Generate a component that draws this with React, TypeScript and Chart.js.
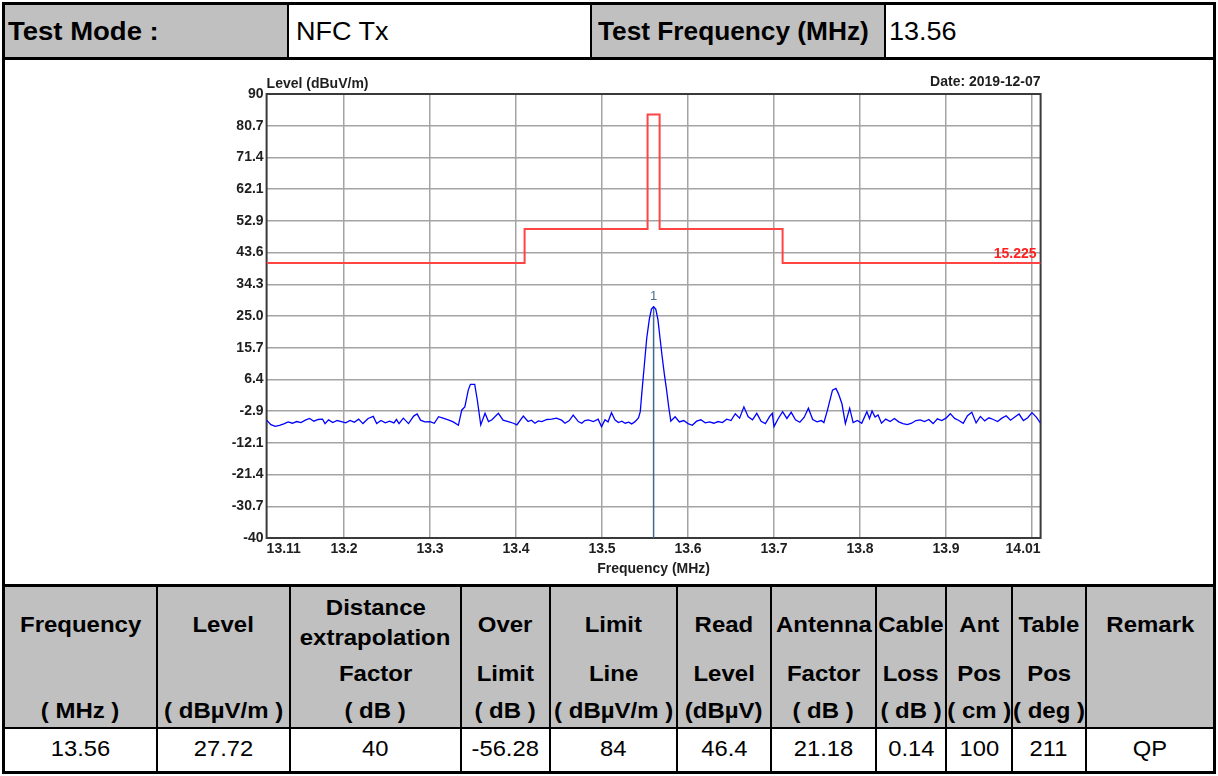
import React, { useEffect, useRef } from "react";
import { Chart, registerables } from "chart.js";

Chart.register(...registerables);

// ---------------- data ----------------
const freqMHz = [
  13.11, 13.115, 13.12, 13.125, 13.13, 13.135, 13.14, 13.145, 13.15, 13.155,
  13.16, 13.165, 13.17, 13.175, 13.178, 13.182, 13.187, 13.192, 13.197, 13.202,
  13.207, 13.212, 13.217, 13.222, 13.228, 13.234, 13.238, 13.243, 13.248, 13.253,
  13.258, 13.261, 13.264, 13.269, 13.275, 13.281, 13.285, 13.289, 13.294, 13.3,
  13.305, 13.31, 13.316, 13.322, 13.327, 13.333, 13.337, 13.3405, 13.3445, 13.347,
  13.352, 13.355, 13.359, 13.364, 13.368, 13.372, 13.3795, 13.385, 13.391, 13.397,
  13.401, 13.4085, 13.414, 13.418, 13.422, 13.426, 13.43, 13.436, 13.4415, 13.447,
  13.453, 13.457, 13.462, 13.4665, 13.4725, 13.4765, 13.48, 13.484, 13.49, 13.4955,
  13.4995, 13.5035, 13.507, 13.511, 13.515, 13.519, 13.523, 13.527, 13.531, 13.5345,
  13.538, 13.5405, 13.5425, 13.5445, 13.5465, 13.549, 13.552, 13.555, 13.5575, 13.56,
  13.5625, 13.565, 13.5675, 13.57, 13.5725, 13.575, 13.5775, 13.58, 13.585, 13.59,
  13.595, 13.6, 13.605, 13.61, 13.615, 13.62, 13.625, 13.63, 13.635, 13.64,
  13.645, 13.65, 13.655, 13.66, 13.665, 13.67, 13.675, 13.68, 13.685, 13.69,
  13.695, 13.698, 13.7, 13.705, 13.71, 13.715, 13.72, 13.725, 13.73, 13.735,
  13.74, 13.745, 13.75, 13.755, 13.758, 13.762, 13.768, 13.772, 13.775, 13.779,
  13.783, 13.788, 13.792, 13.797, 13.802, 13.808, 13.811, 13.814, 13.8175, 13.821,
  13.825, 13.83, 13.835, 13.84, 13.845, 13.85, 13.855, 13.86, 13.865, 13.87,
  13.875, 13.88, 13.885, 13.89, 13.895, 13.9, 13.905, 13.91, 13.915, 13.92,
  13.925, 13.93, 13.935, 13.94, 13.945, 13.95, 13.955, 13.96, 13.965, 13.97,
  13.975, 13.98, 13.985, 13.99, 13.995, 14.0, 14.005, 14.01,
];

const levelDbuV = [
  -5.5, -6.8, -7.3, -7.0, -6.6, -6.0, -6.4, -5.9, -6.2, -5.5,
  -5.0, -5.8, -5.3, -5.2, -6.5, -5.4, -6.2, -5.6, -5.9, -6.3,
  -5.6, -6.1, -5.2, -6.5, -5.0, -4.4, -6.5, -5.6, -6.3, -5.8,
  -6.3, -5.3, -6.5, -4.9, -6.5, -4.3, -3.7, -5.5, -6.0, -5.9,
  -6.4, -4.5, -5.0, -5.5, -6.0, -7.0, -2.5, -1.6, 3.3, 5.0,
  5.0, 0.4, -6.9, -3.5, -5.9, -5.4, -3.5, -5.5, -5.9, -6.4,
  -6.9, -4.3, -5.9, -5.5, -6.4, -5.7, -5.9, -5.3, -5.2, -4.9,
  -5.5, -6.4, -5.6, -4.0, -5.9, -6.4, -5.6, -5.4, -5.9, -5.2,
  -7.4, -5.4, -6.0, -3.3, -5.4, -6.2, -5.8, -6.4, -6.1, -6.6,
  -6.0, -5.4, -4.8, -3.0, 3.0, 10.0, 18.5, 24.0, 27.0, 27.72,
  27.0, 24.0, 18.5, 13.0, 8.0, 3.5, -1.5, -5.8, -4.5, -6.0,
  -5.6, -6.5, -7.0, -5.8, -5.4, -6.3, -6.0, -6.4, -5.9, -6.2,
  -5.2, -5.6, -3.6, -4.9, -1.6, -4.5, -5.4, -3.5, -5.8, -6.5,
  -4.4, -3.5, -7.4, -5.0, -3.0, -5.0, -3.2, -5.4, -6.1, -4.7,
  -2.0, -5.3, -6.0, -5.6, -6.2, -2.7, 3.3, 3.8, 2.2, -0.7,
  -6.5, -2.0, -6.2, -5.6, -6.4, -3.0, -5.0, -2.8, -4.6, -4.0,
  -6.4, -5.2, -5.9, -5.0, -6.0, -6.5, -6.8, -6.4, -5.6, -5.4,
  -5.9, -5.3, -6.5, -5.1, -5.6, -4.9, -3.6, -5.0, -5.6, -6.4,
  -4.2, -3.2, -6.3, -4.4, -5.7, -4.8, -5.3, -5.9, -4.9, -4.2,
  -5.5, -4.6, -3.7, -5.6, -4.8, -3.3, -4.6, -6.4,
];

const limitFreq = [13.11, 13.41, 13.553, 13.567, 13.71, 14.01];
const limitLevel = [40.5, 50.5, 84, 50.5, 40.5, 40.5];
const limitName = "15.225";

const markerFreq = 13.56;
const markerLevel = 27.72;
const markerName = "1";

const yTickValues = [90, 80.714, 71.429, 62.143, 52.857, 43.571, 34.286, 25, 15.714, 6.429, -2.857, -12.143, -21.429, -30.714, -40];
const yTickLabels = ["90", "80.7", "71.4", "62.1", "52.9", "43.6", "34.3", "25.0", "15.7", "6.4", "-2.9", "-12.1", "-21.4", "-30.7", "-40"];
const xTickValues = [13.11, 13.2, 13.3, 13.4, 13.5, 13.6, 13.7, 13.8, 13.9, 14.0, 14.01];
const xTickLabels = ["13.11", "13.2", "13.3", "13.4", "13.5", "13.6", "13.7", "13.8", "13.9", "", "14.01"];

const yTitle = "Level (dBuV/m)";
const xTitle = "Frequency (MHz)";
const dateText = "Date: 2019-12-07";

const headerLabels = ["Test Mode :", "NFC Tx", "Test Frequency (MHz)", "13.56"];

const colHeadLine1 = ["Frequency", "Level", "", "Over", "Limit", "Read", "Antenna", "Cable", "Ant", "Table", "Remark"];
const colHeadLine2 = ["", "", "Factor", "Limit", "Line", "Level", "Factor", "Loss", "Pos", "Pos", ""];
const colHeadLine3 = ["( MHz )", "( dBµV/m )", "( dB )", "( dB )", "( dBµV/m )", "(dBµV)", "( dB )", "( dB )", "( cm )", "( deg )", ""];
const distanceHead = ["Distance", "extrapolation"];
const rowValues = ["13.56", "27.72", "40", "-56.28", "84", "46.4", "21.18", "0.14", "100", "211", "QP"];

// ---------------- layout ----------------
const FONT = "'Liberation Sans', Arial, Helvetica, sans-serif";
const colEdges = [4, 157, 290, 461, 550, 677, 771, 876, 946, 1012, 1086, 1214];
const GRAY = "#c0c0c0";

type TxtProps = {
  x: number; y: number; w: number; text: string; size: number; bold?: boolean;
  left?: boolean; sx?: number; color?: string;
};
const Txt = ({ x, y, w, text, size, bold, left, sx = 1.08, color = "#000" }: TxtProps) => (
  <div
    style={{
      position: "absolute", left: x, top: y - 20, width: w, height: 40,
      display: "flex", alignItems: "center",
      justifyContent: left ? "flex-start" : "center",
      fontFamily: FONT, color,
    }}
  >
    <span
      style={{
        display: "inline-block", whiteSpace: "nowrap", fontSize: size,
        fontWeight: bold ? 700 : 400, lineHeight: 1,
        transform: `scaleX(${sx})`, transformOrigin: left ? "left center" : "center center",
      }}
    >
      {text}
    </span>
  </div>
);

const Box = ({ x, y, w, h, bg = "#000" }: { x: number; y: number; w: number; h: number; bg?: string }) => (
  <div style={{ position: "absolute", left: x, top: y, width: w, height: h, background: bg }} />
);

const textPlugin = {
  id: "reportText",
  beforeDatasetsDraw(chart: any) {
    const { ctx, chartArea } = chart;
    ctx.save();
    ctx.strokeStyle = "#3a3a3a";
    ctx.lineWidth = 2;
    ctx.strokeRect(chartArea.left, chartArea.top, chartArea.right - chartArea.left, chartArea.bottom - chartArea.top);
    ctx.restore();
  },
  afterDraw(chart: any) {
    const { ctx, chartArea, scales } = chart;
    const xs = scales.x;
    const ys = scales.y;
    ctx.save();
    ctx.textBaseline = "middle";
    ctx.fillStyle = "#1e1e1e";
    ctx.font = `bold 14px ${FONT}`;
    ctx.textAlign = "left";
    ctx.fillText(yTitle, chartArea.left, chartArea.top - 10);
    ctx.textAlign = "right";
    ctx.fillText(dateText, chartArea.right, chartArea.top - 12);
    ctx.textAlign = "center";
    ctx.fillText(xTitle, (chartArea.left + chartArea.right) / 2, chartArea.bottom + 31);
    // limit name
    ctx.fillStyle = "#ff2020";
    ctx.textAlign = "right";
    ctx.fillText(limitName, chartArea.right - 4, ys.getPixelForValue(limitLevel[limitLevel.length - 1]) - 9);
    // marker label
    ctx.fillStyle = "#4a6e8e";
    ctx.font = `13px ${FONT}`;
    ctx.textAlign = "center";
    ctx.fillText(markerName, xs.getPixelForValue(markerFreq), ys.getPixelForValue(markerLevel) - 10);
    ctx.restore();
  },
};

export default function App() {
  const ref = useRef<HTMLCanvasElement>(null);

  useEffect(() => {
    document.body.style.margin = "0";
    const canvas = ref.current;
    if (!canvas) return;
    const gridColor = (edges: number[]) => (c: any) =>
      c.tick && edges.includes(c.tick.value) ? "rgba(0,0,0,0)" : "#a4a4a4";
    const chart = new Chart(canvas, {
      type: "line",
      data: {
        datasets: [
          {
            label: "limit",
            data: limitFreq.map((f, i) => ({ x: f, y: limitLevel[i] })),
            stepped: true,
            borderColor: "#ff4444",
            borderWidth: 2,
            pointRadius: 0,
            fill: false,
          },
          {
            label: "level",
            data: freqMHz.map((f, i) => ({ x: f, y: levelDbuV[i] })),
            borderColor: "#0000ff",
            borderWidth: 1.3,
            pointRadius: 0,
            tension: 0,
            fill: false,
          },
          {
            label: "marker",
            data: [
              { x: markerFreq, y: -40 },
              { x: markerFreq, y: markerLevel },
            ],
            borderColor: "#3d6b8f",
            borderWidth: 1.5,
            pointRadius: 0,
            fill: false,
          },
        ],
      },
      options: {
        responsive: false,
        animation: false,
        devicePixelRatio: 1,
        layout: { padding: { left: 0, top: 32, right: 49.4, bottom: 0 } },
        plugins: { legend: { display: false }, tooltip: { enabled: false }, title: { display: false } },
        scales: {
          x: {
            type: "linear",
            min: 13.11,
            max: 14.01,
            afterBuildTicks: (s: any) => {
              s.ticks = xTickValues.map((v) => ({ value: v }));
            },
            afterFit: (s: any) => {
              s.height = 45;
            },
            ticks: {
              autoSkip: false,
              maxRotation: 0,
              align: "inner",
              padding: 3,
              color: "#1e1e1e",
              font: { family: FONT, size: 14, weight: "bold" },
              callback: (v: any) => {
                const i = xTickValues.indexOf(Number(v));
                return i >= 0 ? xTickLabels[i] : "";
              },
            },
            grid: { color: gridColor([13.11, 14.01]), lineWidth: 1.5, drawTicks: false },
            border: { display: false },
          },
          y: {
            type: "linear",
            min: -40,
            max: 90,
            afterBuildTicks: (s: any) => {
              s.ticks = yTickValues.map((v) => ({ value: v }));
            },
            afterFit: (s: any) => {
              s.width = 116.6;
            },
            ticks: {
              autoSkip: false,
              padding: 3,
              color: "#1e1e1e",
              font: { family: FONT, size: 14, weight: "bold" },
              callback: (v: any) => {
                const i = yTickValues.indexOf(Number(v));
                return i >= 0 ? yTickLabels[i] : "";
              },
            },
            grid: { color: gridColor([90, -40]), lineWidth: 1.5, drawTicks: false },
            border: { display: false },
          },
        },
      },
      plugins: [textPlugin],
    } as any);
    return () => chart.destroy();
  }, []);

  const cells: React.ReactNode[] = [];
  for (let i = 0; i < rowValues.length; i++) {
    const x = colEdges[i] + 1;
    const w = colEdges[i + 1] - colEdges[i] - 2;
    if (i === 2) {
      cells.push(<Txt key={`d1`} x={x} y={608} w={w} text={distanceHead[0]} size={22} bold sx={1.09} />);
      cells.push(<Txt key={`d2`} x={x} y={638} w={w} text={distanceHead[1]} size={22} bold sx={1.09} />);
    } else if (colHeadLine1[i]) {
      cells.push(<Txt key={`a${i}`} x={x} y={625} w={w} text={colHeadLine1[i]} size={22} bold sx={1.09} />);
    }
    if (colHeadLine2[i]) cells.push(<Txt key={`b${i}`} x={x} y={674} w={w} text={colHeadLine2[i]} size={22} bold sx={1.09} />);
    if (colHeadLine3[i]) cells.push(<Txt key={`c${i}`} x={x} y={711} w={w} text={colHeadLine3[i]} size={22} bold sx={1.09} />);
    cells.push(<Txt key={`v${i}`} x={x} y={749} w={w} text={rowValues[i]} size={22} sx={1.08} />);
  }

  return (
    <div style={{ position: "absolute", left: 0, top: 0, width: 1218, height: 776, background: "#fff", overflow: "hidden" }}>
      {/* fills */}
      <Box x={5} y={5} w={282} h={52} bg={GRAY} />
      <Box x={592} y={5} w={292} h={52} bg={GRAY} />
      <Box x={5} y={587} w={1208} h={140} bg={GRAY} />

      {/* header texts */}
      <Txt x={8} y={31} w={280} text={headerLabels[0]} size={25} bold left sx={1.1} />
      <Txt x={296} y={31} w={290} text={headerLabels[1]} size={25} left sx={1.08} />
      <Txt x={598} y={31} w={290} text={headerLabels[2]} size={25} bold left sx={1.05} />
      <Txt x={889} y={31} w={300} text={headerLabels[3]} size={25} left sx={1.08} />

      {/* chart */}
      <canvas ref={ref} width={940} height={521} style={{ position: "absolute", left: 150, top: 62, width: 940, height: 521 }} />

      {/* bottom table texts */}
      {cells}

      {/* lines */}
      <Box x={2} y={2} w={1214} h={3} />
      <Box x={2} y={771} w={1214} h={3} />
      <Box x={2} y={2} w={3} h={772} />
      <Box x={1213} y={2} w={3} h={772} />
      <Box x={2} y={57} w={1214} h={3} />
      <Box x={287} y={2} w={2} h={57} />
      <Box x={590} y={2} w={2} h={57} />
      <Box x={884} y={2} w={2} h={57} />
      <Box x={2} y={584} w={1214} h={3} />
      <Box x={2} y={727} w={1214} h={2} />
      {colEdges.slice(1, -1).map((e, i) => (
        <Box key={i} x={e - 1} y={585} w={2} h={188} />
      ))}
    </div>
  );
}
